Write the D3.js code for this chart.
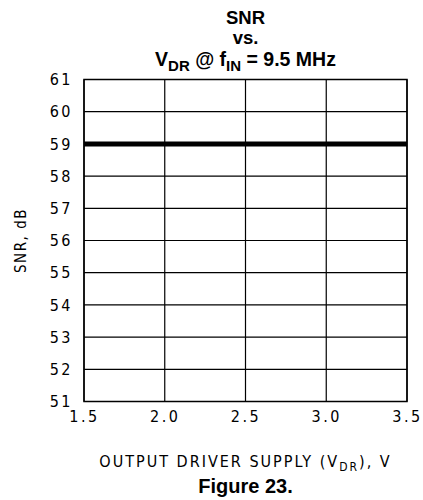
<!DOCTYPE html>
<html><head><meta charset="utf-8">
<script src="https://cdn.jsdelivr.net/npm/d3@7"></script>
<style>body{margin:0;background:#fff}</style>
</head><body>
<script>
const vdr = [1.5, 2.0, 2.5, 3.0, 3.5];
const snr = [59, 59, 59, 59, 59];
const xTicks = [1.5, 2.0, 2.5, 3.0, 3.5];
const yTicks = [51, 52, 53, 54, 55, 56, 57, 58, 59, 60, 61];

const W = 423, H = 500;
const m = {left: 84, right: 16, top: 79.5, bottom: 98.5};
const svg = d3.select("body").append("svg").attr("width", W).attr("height", H);
const x = d3.scaleLinear().domain([1.5, 3.5]).range([m.left, W - m.right]);
const y = d3.scaleLinear().domain([51, 61]).range([H - m.bottom, m.top]);
const tickFont = "'Liberation Sans Narrow', 'DejaVu Sans Condensed', 'Roboto Condensed', 'Liberation Sans', sans-serif";

// grid
const g = svg.append("g");
g.selectAll(".hg").data(yTicks).enter().append("line")
  .attr("x1", x(1.5)).attr("x2", x(3.5))
  .attr("y1", d => y(d)).attr("y2", d => y(d))
  .attr("stroke", "#000").attr("stroke-width", 1.2);
g.selectAll(".vg").data(xTicks).enter().append("line")
  .attr("y1", y(51)).attr("y2", y(61))
  .attr("x1", d => x(d)).attr("x2", d => x(d))
  .attr("stroke", "#000").attr("stroke-width", 1.2);
svg.append("rect").attr("x", x(1.5)).attr("y", y(61))
  .attr("width", x(3.5) - x(1.5)).attr("height", y(51) - y(61))
  .attr("fill", "none").attr("stroke", "#000").attr("stroke-width", 1.5);

// axes (labels only)
const yAxis = svg.append("g").attr("transform", `translate(${x(1.5)},0)`)
  .call(d3.axisLeft(y).tickValues(yTicks).tickSize(0).tickPadding(11).tickFormat(d3.format("d")));
yAxis.select(".domain").remove();
yAxis.selectAll("text").attr("font-family", tickFont).attr("font-size", 16).attr("fill", "#000").attr("letter-spacing", 2.5);

const xAxis = svg.append("g").attr("transform", `translate(0,${y(51)})`)
  .call(d3.axisBottom(x).tickValues(xTicks).tickSize(0).tickPadding(9).tickFormat(d3.format(".1f")));
xAxis.select(".domain").remove();
xAxis.selectAll("text").attr("font-family", tickFont).attr("font-size", 16).attr("fill", "#000").attr("letter-spacing", 2.5);

// data line
const line = d3.line().x((d, i) => x(vdr[i])).y(d => y(d));
svg.append("path").datum(snr).attr("d", line)
  .attr("fill", "none").attr("stroke", "#000").attr("stroke-width", 5);

// title
const cx = (x(1.5) + x(3.5)) / 2;
const tf = "'Liberation Sans', Arial, sans-serif";
svg.append("text").attr("x", cx).attr("y", 23.5).attr("text-anchor", "middle")
  .attr("font-family", tf).attr("font-weight", "bold").attr("font-size", 18.5).text("SNR");
svg.append("text").attr("x", cx).attr("y", 44).attr("text-anchor", "middle")
  .attr("font-family", tf).attr("font-weight", "bold").attr("font-size", 18.5).text("vs.");
const t3 = svg.append("text").attr("x", cx).attr("y", 65.5).attr("text-anchor", "middle")
  .attr("font-family", tf).attr("font-weight", "bold").attr("font-size", 19.5);
t3.append("tspan").text("V");
t3.append("tspan").attr("dy", 5).attr("font-size", 15).text("DR");
t3.append("tspan").attr("dy", -5).text(" @ f");
t3.append("tspan").attr("dy", 5).attr("font-size", 15).text("IN");
t3.append("tspan").attr("dy", -5).text(" = 9.5 MHz");

// y label
svg.append("text").attr("transform", `translate(26,${(y(51) + y(61)) / 2}) rotate(-90)`)
  .attr("text-anchor", "middle").attr("font-family", tickFont).attr("font-size", 15)
  .attr("letter-spacing", 1.5).text("SNR, dB");

// x label
const xl = svg.append("text").attr("x", cx).attr("y", 467).attr("text-anchor", "middle")
  .attr("font-family", tickFont).attr("font-size", 16).attr("letter-spacing", 2);
xl.append("tspan").text("OUTPUT DRIVER SUPPLY (V");
xl.append("tspan").attr("dy", 4).attr("font-size", 12).text("DR");
xl.append("tspan").attr("dy", -4).text("), V");

svg.append("text").attr("x", cx).attr("y", 493).attr("text-anchor", "middle")
  .attr("font-family", tf).attr("font-weight", "bold").attr("font-size", 20).text("Figure 23.");
</script>
</body></html>
